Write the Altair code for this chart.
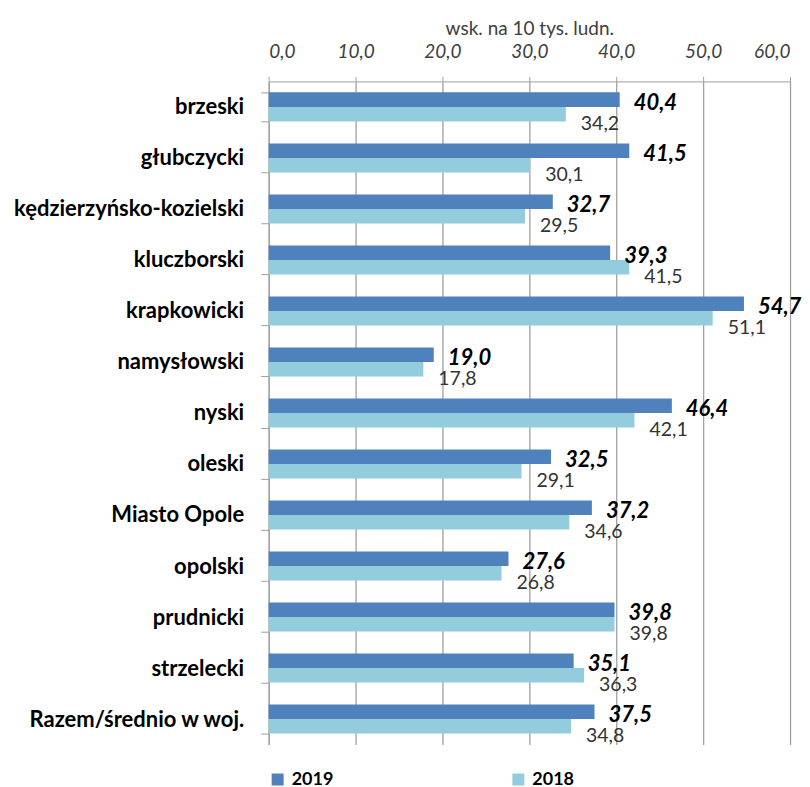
import altair as alt
import pandas as pd

categories = ["brzeski", "głubczycki", "kędzierzyńsko-kozielski", "kluczborski",
              "krapkowicki", "namysłowski", "nyski", "oleski", "Miasto Opole",
              "opolski", "prudnicki", "strzelecki", "Razem/średnio w woj."]
values_2019 = [40.4, 41.5, 32.7, 39.3, 54.7, 19.0, 46.4, 32.5, 37.2, 27.6, 39.8, 35.1, 37.5]
values_2018 = [34.2, 30.1, 29.5, 41.5, 51.1, 17.8, 42.1, 29.1, 34.6, 26.8, 39.8, 36.3, 34.8]
years = ["2019", "2018"]
x_ticks = [0, 10, 20, 30, 40, 50, 60]

rows = []
for c, a, b in zip(categories, values_2019, values_2018):
    rows.append({"cat": c, "year": "2019", "value": a, "label": f"{a:.1f}".replace(".", ",")})
    rows.append({"cat": c, "year": "2018", "value": b, "label": f"{b:.1f}".replace(".", ",")})
df = pd.DataFrame(rows)

GRAY = "#A0A0A0"

x_enc = alt.X("value:Q",
              scale=alt.Scale(domain=[0, 60], nice=False),
              axis=alt.Axis(orient="top", values=x_ticks,
                            title="wsk. na 10 tys. ludn.",
                            titleFontSize=19, titleFontWeight="normal",
                            titleColor="#404040", titlePadding=4,
                            labelFontSize=19, labelFontStyle="italic",
                            labelColor="#404040", labelPadding=15,
                            labelExpr="replace(format(datum.value, '.1f'), '.', ',')",
                            tickSize=5, tickColor=GRAY, domainColor=GRAY,
                            grid=True, gridColor=GRAY, gridWidth=1.3))

y_enc = alt.Y("cat:N", sort=categories,
              scale=alt.Scale(paddingInner=0.43, paddingOuter=0.215),
              axis=alt.Axis(title=None, labelFontSize=22, labelFontWeight="bold",
                            labelColor="#000000", labelPadding=17, labelLimit=400,
                            tickSize=8, tickBand="extent", tickColor=GRAY,
                            domainColor=GRAY))

bars = alt.Chart(df).mark_bar().encode(
    x=x_enc,
    y=y_enc,
    yOffset=alt.YOffset("year:N", sort=years,
                        scale=alt.Scale(paddingInner=0, paddingOuter=0)),
    color=alt.Color("year:N", sort=years,
                    scale=alt.Scale(domain=years, range=["#4F81BD", "#93CDDD"]),
                    legend=alt.Legend(title=None, orient="none", legendX=0, legendY=690,
                                      direction="horizontal", columns=2,
                                      columnPadding=176, symbolType="square",
                                      symbolSize=144, symbolStrokeWidth=0,
                                      labelFontSize=18, labelFontWeight="bold",
                                      labelColor="#000000", labelOffset=5,
                                      padding=0)),
)

t2019 = alt.Chart(df).transform_filter(alt.datum.year == "2019").mark_text(
    align="left", baseline="middle", dx=14, dy=-4,
    fontSize=22, fontWeight="bold", fontStyle="italic", color="#000000"
).encode(x="value:Q", y=alt.Y("cat:N", sort=categories), text="label:N")

t2018 = alt.Chart(df).transform_filter(alt.datum.year == "2018").mark_text(
    align="left", baseline="middle", dx=15, dy=17,
    fontSize=19.5, fontWeight="normal", color="#333333"
).encode(x="value:Q", y=alt.Y("cat:N", sort=categories), text="label:N")

chart = alt.layer(bars, t2019, t2018).properties(
    width=522, height=664,
    padding={"left": 5, "top": 11, "right": 0, "bottom": 2},
).configure(font="Lato").configure_view(stroke=None)

chart.save("out.html", embed_options={"renderer": "svg", "actions": False})
